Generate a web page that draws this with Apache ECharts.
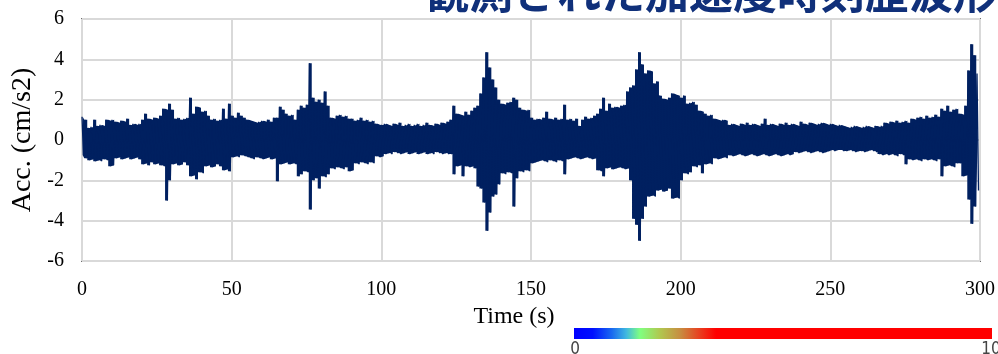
<!DOCTYPE html>
<html>
<head>
<meta charset="utf-8">
<script src="https://cdn.jsdelivr.net/npm/echarts@6/dist/echarts.min.js"></script>
<style>
  html, body { margin: 0; padding: 0; background: #fff; }
  #main { width: 998px; height: 354px; }
</style>
</head>
<body>
<div id="main"></div>
<script>
// 1秒ごとの正側ピーク値 (cm/s2), t = 0..299 s
var upPeak = [
  1.15, 1.0, 0.6, 0.65, 1.0, 0.7, 0.75, 0.7, 1.0, 0.95,
  1.0, 0.9, 0.85, 0.95, 0.9, 1.05, 0.75, 0.8, 0.75, 0.8,
  1.0, 1.3, 1.05, 1.0, 1.1, 1.05, 1.2, 1.55, 1.5, 1.8,
  1.5, 1.05, 1.1, 1.0, 1.05, 1.1, 2.1, 1.3, 1.65, 1.6,
  1.4, 1.45, 1.2, 1.0, 1.05, 0.95, 1.0, 1.55, 1.05, 1.8,
  1.2, 1.1, 1.35, 1.2, 1.1, 1.0, 0.95, 0.9, 0.85, 0.9,
  0.95, 0.9, 1.0, 0.9, 1.1, 1.1, 1.65, 1.5, 1.3, 1.2,
  1.25, 1.0, 1.5, 1.7, 1.6, 1.75, 3.8, 2.1, 1.9, 2.0,
  1.85, 2.4, 1.7, 1.1, 1.05, 1.2, 1.25, 1.15, 1.2, 1.05,
  1.05, 0.95, 1.0, 1.1, 0.95, 1.0, 0.9, 0.95, 0.8, 0.75,
  0.75, 0.8, 0.75, 0.7, 0.8, 0.75, 0.85, 0.7, 0.75, 0.8,
  0.7, 0.75, 0.8, 0.7, 0.75, 0.85, 0.75, 0.7, 0.8, 0.75,
  0.85, 0.8, 0.9, 1.0, 1.7, 1.3, 1.25, 1.2, 1.4, 1.25,
  1.45, 1.6, 1.7, 2.3, 3.1, 4.35, 3.6, 3.0, 2.6, 2.0,
  1.8, 1.75, 1.85, 1.9, 2.1, 2.0, 1.6, 1.5, 1.45, 1.5,
  1.1, 1.0, 1.05, 1.0, 1.1, 1.4, 1.05, 1.0, 1.1, 1.0,
  1.05, 1.75, 1.0, 1.05, 0.95, 1.05, 0.7, 1.0, 1.15, 1.05,
  1.1, 1.2, 1.3, 1.55, 2.1, 1.45, 1.8, 1.6, 1.65, 1.6,
  1.7, 1.75, 2.4, 2.6, 2.7, 3.5, 4.35, 3.75, 3.3, 3.45,
  3.4, 2.8, 2.9, 2.2, 2.05, 2.0, 2.1, 2.3, 2.25, 2.2,
  2.1, 2.2, 1.8, 1.85, 1.9, 1.75, 1.45, 1.4, 1.3, 1.2,
  1.25, 1.05, 1.0, 0.95, 1.0, 0.95, 0.75, 0.8, 0.75, 0.7,
  0.8, 0.75, 0.85, 0.75, 0.8, 0.75, 0.7, 0.8, 1.05, 0.75,
  0.8, 0.75, 0.7, 0.8, 0.75, 0.85, 0.75, 0.8, 0.75, 0.7,
  0.9, 0.8, 0.75, 0.85, 0.8, 0.75, 0.8, 0.85, 0.8, 0.75,
  0.8, 0.75, 0.7, 0.75, 0.7, 0.65, 0.6, 0.65, 0.7, 0.65,
  0.6, 0.65, 0.7, 0.65, 0.6, 0.7, 0.65, 0.7, 0.85, 0.8,
  0.9, 0.85, 0.95, 0.85, 0.9, 0.95, 0.85, 1.05, 1.0, 1.1,
  1.15, 1.05, 1.2, 1.1, 1.15, 1.25, 1.15, 1.55, 1.45, 1.7,
  1.4, 1.5, 1.55, 1.3, 1.25, 1.7, 3.45, 4.75, 4.2, 3.3
];
// 1秒ごとの負側ピーク値 (cm/s2)
var lowPeak = [
  -0.75, -0.9, -1.0, -0.95, -1.05, -1.0, -1.05, -0.95, -1.0, -1.3,
  -1.25, -0.9, -0.85, -0.95, -0.9, -0.85, -0.95, -0.9, -0.85, -0.95,
  -1.2, -1.15, -1.25, -1.1, -1.2, -1.15, -1.25, -1.3, -3.0, -2.0,
  -1.2, -1.15, -1.25, -1.2, -1.1, -1.25, -1.8, -1.75, -1.95, -1.6,
  -1.65, -1.3, -1.25, -1.35, -1.3, -1.2, -1.3, -1.5, -1.45, -1.55,
  -0.85, -0.8, -0.85, -0.75, -0.8, -0.85, -0.9, -0.95, -0.85, -0.9,
  -0.95, -0.9, -0.85, -0.95, -0.9, -2.05, -1.2, -1.15, -1.1, -1.2,
  -1.15, -1.2, -1.8, -1.7, -1.55, -1.6, -3.45, -2.0, -1.9, -2.4,
  -1.8, -1.85, -1.7, -1.4, -1.45, -1.35, -1.4, -1.45, -1.35, -1.55,
  -1.5, -1.15, -1.2, -1.1, -1.15, -1.2, -1.1, -1.15, -0.8, -0.85,
  -0.8, -0.7, -0.65, -0.7, -0.6, -0.65, -0.7, -0.65, -0.6, -0.7,
  -0.65, -0.6, -0.7, -0.65, -0.6, -0.7, -0.65, -0.7, -0.6, -0.65,
  -0.7, -0.65, -0.7, -0.7, -1.7, -1.3, -1.25, -1.8, -1.3, -1.35,
  -1.3, -1.4, -2.3, -2.4, -3.1, -4.5, -3.6, -2.8, -2.7, -2.2,
  -1.65, -1.7, -1.6, -1.65, -3.3, -1.9, -1.55, -1.6, -1.5, -1.55,
  -1.15, -1.1, -1.05, -1.0, -1.05, -1.1, -1.0, -1.05, -1.1, -1.0,
  -1.05, -1.7, -0.95, -0.9, -0.85, -0.9, -0.95, -0.9, -0.85, -0.9,
  -0.95, -0.9, -1.5, -1.55, -1.8, -1.4, -1.35, -1.45, -1.4, -1.35,
  -1.4, -1.45, -1.4, -2.0, -3.9, -4.2, -5.0, -3.9, -3.3, -2.8,
  -2.75, -2.8, -2.5, -2.45, -2.55, -2.5, -2.4, -2.9, -2.85, -2.9,
  -2.0, -1.65, -1.7, -1.6, -1.3, -1.35, -1.25, -1.65, -1.2, -1.15,
  -1.2, -0.9, -0.95, -0.9, -0.85, -0.9, -0.75, -0.8, -0.75, -0.7,
  -0.75, -0.8, -0.75, -0.7, -0.75, -0.8, -0.75, -0.7, -0.75, -0.8,
  -0.75, -0.7, -0.75, -0.8, -0.75, -0.7, -0.75, -0.7, -0.6, -0.65,
  -0.6, -0.55, -0.6, -0.65, -0.6, -0.55, -0.6, -0.65, -0.6, -0.55,
  -0.5, -0.55, -0.5, -0.5, -0.55, -0.55, -0.5, -0.55, -0.6, -0.55,
  -0.55, -0.6, -0.55, -0.5, -0.55, -0.6, -0.7, -0.75, -0.7, -0.75,
  -0.7, -0.75, -0.8, -0.7, -0.75, -1.2, -0.95, -1.0, -0.95, -1.0,
  -1.05, -0.95, -1.0, -0.95, -1.0, -1.05, -0.95, -1.8, -1.3, -1.25,
  -1.3, -1.35, -1.15, -1.15, -1.8, -1.75, -2.95, -4.15, -3.3, -2.5
];

var titleText = '観測された加速度時刻歴波形';
var colorbarLabels = ['0', '10'];
var waveColor = '#002060';

// 正負ピークを交互につないで波形にする
function buildWave() {
  var pts = [];
  for (var i = 0; i < upPeak.length; i++) {
    pts.push([i, upPeak[i]]);
    pts.push([i + 0.5, lowPeak[i]]);
  }
  return pts;
}
// 波形の中身を塗る (0 から各ピークまで)
function envelope(arr) {
  return arr.map(function (v, i) { return [i + 0.25, v]; });
}

function fillSeries(arr) {
  return {
    type: 'line',
    data: envelope(arr),
    step: 'middle',
    showSymbol: false,
    symbol: 'none',
    lineStyle: { width: 0, opacity: 0 },
    areaStyle: { color: waveColor, opacity: 1, origin: 0 },
    z: 2
  };
}

var serif = '"Liberation Serif", "Times New Roman", serif';
var myChart = echarts.init(document.getElementById('main'));

var option = {
  animation: false,
  backgroundColor: '#fff',
  grid: {
    left: 82, right: 16, top: 19, bottom: 93,
    show: true,
    borderColor: '#000',
    borderWidth: 1.5,
    backgroundColor: 'transparent'
  },
  xAxis: {
    type: 'value',
    min: 0, max: 300, interval: 50,
    name: 'Time (s)',
    nameLocation: 'middle',
    nameGap: 37,
    nameTextStyle: { fontFamily: serif, fontSize: 24, color: '#000', padding: [0, 34, 0, 0] },
    axisLine: { show: false },
    axisTick: { show: false },
    axisLabel: { fontFamily: serif, fontSize: 20, color: '#000', margin: 19, showMinLabel: true, showMaxLabel: true },
    splitLine: { show: true, lineStyle: { color: '#d9d9d9', width: 2 } }
  },
  yAxis: {
    type: 'value',
    min: -6, max: 6, interval: 2,
    name: 'Acc. (cm/s2)',
    nameLocation: 'middle',
    nameGap: 45,
    nameTextStyle: { fontFamily: serif, fontSize: 28, color: '#000' },
    axisLine: { show: false },
    axisTick: { show: false },
    axisLabel: { fontFamily: serif, fontSize: 20, color: '#000', margin: 18, showMinLabel: true, showMaxLabel: true },
    splitLine: { show: true, lineStyle: { color: '#d9d9d9', width: 2 } }
  },
  series: [
    fillSeries(upPeak),
    fillSeries(lowPeak),
    {
      type: 'line',
      data: buildWave(),
      showSymbol: false,
      symbol: 'none',
      sampling: null,
      lineStyle: { color: waveColor, width: 1.3 },
      z: 3
    }
  ],
  graphic: [
    {
      type: 'text',
      left: 425, top: -30,
      style: {
        text: titleText,
        font: 'bold 44px "Noto Sans CJK JP", sans-serif',
        fill: '#10307a'
      },
      z: 10
    },
    {
      type: 'rect',
      shape: { x: 574, y: 328, width: 418, height: 11 },
      style: {
        fill: new echarts.graphic.LinearGradient(0, 0, 1, 0, [
          { offset: 0, color: '#0000ff' },
          { offset: 0.045, color: '#0010ff' },
          { offset: 0.09, color: '#1868f0' },
          { offset: 0.125, color: '#40b8e0' },
          { offset: 0.158, color: '#80ff80' },
          { offset: 0.205, color: '#b0c850' },
          { offset: 0.255, color: '#c88c40' },
          { offset: 0.30, color: '#e84020' },
          { offset: 0.34, color: '#ff0000' },
          { offset: 1, color: '#ff0000' }
        ])
      }
    },
    {
      type: 'text',
      x: 575, y: 341,
      style: {
        text: colorbarLabels[0],
        font: '17px "Liberation Sans Narrow", "DejaVu Sans Condensed", sans-serif',
        fill: '#444',
        align: 'center',
        verticalAlign: 'top'
      }
    },
    {
      type: 'text',
      x: 991, y: 341,
      style: {
        text: colorbarLabels[1],
        font: '17px "Liberation Sans Narrow", "DejaVu Sans Condensed", sans-serif',
        fill: '#444',
        align: 'center',
        verticalAlign: 'top'
      }
    }
  ]
};

myChart.setOption(option);
</script>
</body>
</html>
